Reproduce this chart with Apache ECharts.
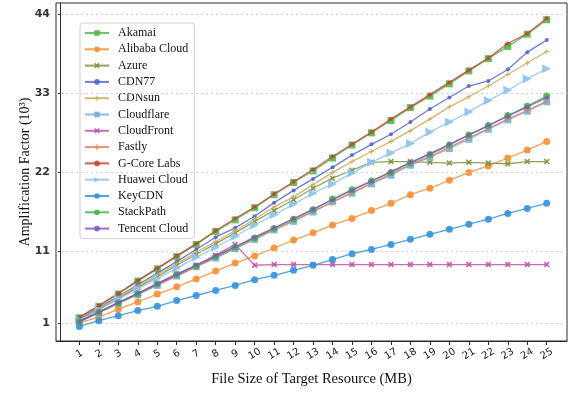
<!DOCTYPE html>
<html>
<head>
<meta charset="utf-8">
<script src="https://cdn.jsdelivr.net/npm/echarts@6/dist/echarts.min.js"></script>
<style>
  html, body { margin: 0; padding: 0; background: #fff; }
  #chart { width: 570px; height: 393px; }
</style>
</head>
<body>
<div id="chart"></div>
<script>
// file size in MB
const sizes = [1, 2, 3, 4, 5, 6, 7, 8, 9, 10, 11, 12, 13, 14, 15, 16, 17, 18, 19, 20, 21, 22, 23, 24, 25];
const yTicks = [1, 11, 22, 33, 44];

// amplification factor, in thousands
const akamai     = [1.8, 3.4, 5.1, 6.9, 8.6, 10.3, 12.0, 13.8, 15.4, 17.1, 18.9, 20.6, 22.2, 24.0, 25.8, 27.5, 29.2, 31.0, 32.6, 34.3, 36.1, 37.8, 39.5, 41.2, 43.2];
const alibaba    = [1.1, 1.9, 3.0, 4.0, 5.1, 6.1, 7.2, 8.3, 9.4, 10.4, 11.5, 12.6, 13.6, 14.7, 15.6, 16.7, 17.7, 18.9, 19.8, 20.9, 22.0, 22.9, 24.0, 25.1, 26.3];
const azure      = [1.5, 3.0, 4.5, 6.0, 7.5, 9.1, 10.6, 12.1, 13.6, 15.2, 16.7, 18.2, 19.8, 21.2, 22.3, 23.4, 23.5, 23.5, 23.4, 23.3, 23.4, 23.3, 23.2, 23.5, 23.5];
const cdn77      = [1.6, 3.2, 4.8, 6.4, 8.0, 9.6, 11.3, 13.0, 14.3, 15.9, 17.8, 19.5, 21.1, 22.7, 24.4, 25.9, 27.3, 29.0, 30.8, 32.4, 34.0, 34.7, 36.3, 38.7, 40.4];
const cdnsun     = [1.5, 3.1, 4.6, 6.2, 7.8, 9.3, 10.9, 12.4, 13.9, 15.5, 17.2, 18.6, 20.3, 22.0, 23.5, 24.9, 26.3, 27.8, 29.4, 31.1, 32.5, 34.0, 35.6, 37.2, 38.8];
const cloudflare = [1.2, 2.5, 3.8, 5.0, 6.3, 7.6, 8.9, 10.1, 11.4, 12.7, 14.0, 15.2, 16.5, 17.9, 19.1, 20.4, 21.6, 23.0, 24.1, 25.3, 26.6, 28.0, 29.3, 30.5, 31.8];
const cloudfront = [1.3, 2.6, 3.9, 5.2, 6.6, 7.9, 9.1, 10.5, 12.0, 9.1, 9.2, 9.2, 9.2, 9.2, 9.2, 9.2, 9.2, 9.2, 9.2, 9.2, 9.2, 9.2, 9.2, 9.2, 9.2];
const fastly     = [1.3, 2.5, 3.8, 5.1, 6.4, 7.6, 8.9, 10.2, 11.5, 12.8, 14.0, 15.3, 16.6, 17.9, 19.2, 20.5, 21.8, 23.1, 24.2, 25.5, 26.8, 28.1, 29.4, 30.6, 31.9];
const gcore      = [1.9, 3.5, 5.2, 7.0, 8.7, 10.4, 12.1, 13.9, 15.6, 17.2, 19.0, 20.7, 22.4, 24.2, 25.9, 27.6, 29.4, 31.1, 32.8, 34.5, 36.2, 37.9, 39.9, 41.3, 43.4];
const huawei     = [1.5, 2.9, 4.4, 5.8, 7.3, 8.7, 10.2, 11.6, 13.1, 14.7, 16.1, 17.6, 19.1, 20.4, 21.9, 23.4, 24.7, 26.0, 27.6, 29.0, 30.4, 32.0, 33.4, 35.0, 36.4];
const keycdn     = [0.6, 1.4, 2.1, 2.8, 3.4, 4.2, 4.9, 5.6, 6.3, 7.1, 7.7, 8.4, 9.1, 9.9, 10.7, 11.3, 12.0, 12.7, 13.4, 14.1, 14.8, 15.5, 16.3, 17.0, 17.7];
const stackpath  = [1.3, 2.6, 3.9, 5.1, 6.5, 7.8, 9.0, 10.3, 11.6, 12.9, 14.2, 15.5, 16.8, 18.3, 19.6, 20.8, 22.0, 23.3, 24.5, 25.8, 27.2, 28.5, 29.9, 31.2, 32.6];
const tencent    = [1.3, 2.6, 3.9, 5.2, 6.5, 7.8, 9.1, 10.4, 11.7, 13.0, 14.3, 15.6, 16.9, 18.2, 19.5, 20.8, 22.1, 23.4, 24.6, 25.9, 27.2, 28.5, 29.8, 31.1, 32.4];

const xMark = "path://M0,2 L2,0 L5,3 L8,0 L10,2 L7,5 L10,8 L8,10 L5,7 L2,10 L0,8 L3,5 Z";
const plusMark = "path://M4,0 H6 V4 H10 V6 H6 V10 H4 V6 H0 V4 H4 Z";

const providers = [
  { name: "Akamai",        data: akamai,     color: "#52b948", symbol: "rect",     size: 7 },
  { name: "Alibaba Cloud", data: alibaba,    color: "#f68f35", symbol: "circle",   size: 7 },
  { name: "Azure",         data: azure,      color: "#7d9140", symbol: xMark,      size: 6 },
  { name: "CDN77",         data: cdn77,      color: "#5565cc", symbol: "circle",   size: 4 },
  { name: "CDNsun",        data: cdnsun,     color: "#c9aa55", symbol: plusMark,   size: 5 },
  { name: "Cloudflare",    data: cloudflare, color: "#78aedd", symbol: "rect",     size: 7 },
  { name: "CloudFront",    data: cloudfront, color: "#c552a6", symbol: xMark,      size: 6 },
  { name: "Fastly",        data: fastly,     color: "#f07a58", symbol: plusMark,   size: 5 },
  { name: "G-Core Labs",   data: gcore,      color: "#c8423a", symbol: "circle",   size: 4 },
  { name: "Huawei Cloud",  data: huawei,     color: "#8ec3ea", symbol: "triangle", size: 9, rotate: -90 },
  { name: "KeyCDN",        data: keycdn,     color: "#3592da", symbol: "circle",   size: 7 },
  { name: "StackPath",     data: stackpath,  color: "#46b44c", symbol: "circle",   size: 7 },
  { name: "Tencent Cloud", data: tencent,    color: "#7f55c6", symbol: "circle",   size: 4 }
];

const serif = "'Liberation Serif', 'Times New Roman', serif";

const series = providers.map((p, i) => ({
  name: p.name,
  type: "line",
  data: p.data.map((v, j) => [sizes[j], v]),
  symbol: p.symbol,
  symbolSize: p.size,
  symbolRotate: p.rotate || 0,
  showAllSymbol: true,
  z: 2 + i,
  itemStyle: { color: p.color, opacity: 0.9 },
  lineStyle: { color: p.color, width: 1.3, opacity: 0.85 },
  emphasis: { disabled: true },
  markLine: i === 0 ? {
    silent: true,
    symbol: "none",
    label: { show: false },
    lineStyle: { color: "#c9d2de", type: [2, 3], width: 1 },
    data: yTicks.map(v => ({ yAxis: v }))
  } : undefined
}));

const chart = echarts.init(document.getElementById("chart"));
chart.setOption({
  animation: false,
  backgroundColor: "#ffffff",
  grid: {
    left: 56, right: 3, top: 3, bottom: 52,
    show: true, borderColor: "#2a2a2a", borderWidth: 1
  },
  legend: {
    orient: "vertical",
    left: 80, top: 23,
    data: providers.map(p => p.name),
    itemWidth: 24, itemHeight: 7, itemGap: 2.3,
    padding: [3, 6, 3, 4],
    backgroundColor: "#ffffff",
    borderColor: "#cfcfcf", borderWidth: 1, borderRadius: 3,
    textStyle: { fontFamily: serif, fontSize: 12, color: "#111", lineHeight: 14, padding: [0, 0, 0, 4] }
  },
  xAxis: {
    type: "value",
    min: -0.2, max: 26.04,
    name: "File Size of Target Resource (MB)",
    nameLocation: "middle",
    nameGap: 31,
    nameTextStyle: { fontFamily: serif, fontSize: 14.5, color: "#111" },
    axisLine: { onZero: false, lineStyle: { color: "#2a2a2a" } },
    axisTick: { customValues: sizes, length: 4, lineStyle: { color: "#2a2a2a" } },
    axisLabel: {
      customValues: sizes, rotate: 30, align: "center", verticalAlign: "middle",
      margin: 13, fontSize: 10, color: "#222", fontFamily: "DejaVu Sans"
    },
    splitLine: { show: false }
  },
  yAxis: {
    type: "value",
    min: -1.42, max: 45.53,
    name: "Amplification Factor (10³)",
    nameLocation: "middle",
    nameGap: 24,
    nameMoveOverlap: false,
    nameTextStyle: { fontFamily: serif, fontSize: 14, color: "#111" },
    axisLine: { show: true, lineStyle: { color: "#2a2a2a" } },
    axisTick: { show: true, customValues: yTicks, length: 4, lineStyle: { color: "#2a2a2a" } },
    axisLabel: { customValues: yTicks, margin: 6, fontSize: 11, fontWeight: "bold", color: "#333", fontFamily: "DejaVu Sans" },
    splitLine: { show: false }
  },
  series: series
});
</script>
</body>
</html>
